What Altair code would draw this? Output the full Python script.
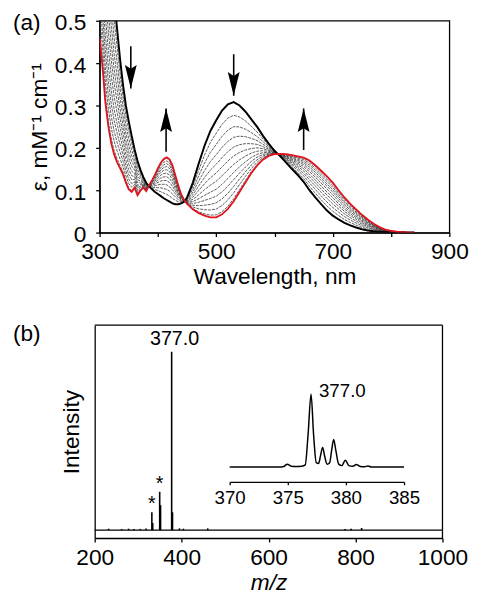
import altair as alt
import pandas as pd

# ---------------- panel (a): UV-vis titration ----------------
wavelength = [300, 305, 310, 315, 320, 325, 330, 335, 340, 345, 350, 355, 360, 365, 370, 375,
              380, 385, 390, 395, 400, 405, 410, 415, 420, 425, 430, 435, 440, 445, 450, 460,
              470, 480, 490, 500, 510, 520, 530, 540, 550, 560, 570, 580, 590, 600, 610, 620,
              630, 640, 650, 660, 670, 680, 690, 700, 710, 720, 730, 740, 750, 760, 770, 780,
              790, 800, 810, 820, 830, 840]
eps_initial = [1.05, 0.95, 0.85, 0.74, 0.64, 0.55, 0.48, 0.41, 0.35, 0.30, 0.262, 0.228, 0.196, 0.169, 0.148, 0.131,
               0.117, 0.109, 0.102, 0.096, 0.091, 0.086, 0.081, 0.077, 0.073, 0.069, 0.067, 0.067, 0.069, 0.073, 0.083, 0.118,
               0.163, 0.205, 0.240, 0.265, 0.288, 0.303, 0.308, 0.300, 0.286, 0.268, 0.250, 0.229, 0.210, 0.193, 0.180, 0.165,
               0.150, 0.136, 0.120, 0.100, 0.083, 0.067, 0.052, 0.040, 0.031, 0.023, 0.017, 0.012, 0.008, 0.005, 0.003, 0.002,
               0.001, 0.0, 0.0, 0.0, 0.0, 0.0]
eps_final = [0.46, 0.39, 0.305, 0.25, 0.21, 0.184, 0.166, 0.152, 0.138, 0.118, 0.102, 0.096, 0.106, 0.088, 0.099, 0.106,
             0.098, 0.112, 0.124, 0.137, 0.152, 0.165, 0.174, 0.178, 0.173, 0.158, 0.135, 0.111, 0.090, 0.077, 0.068, 0.055,
             0.046, 0.040, 0.036, 0.036, 0.043, 0.056, 0.074, 0.096, 0.118, 0.140, 0.158, 0.172, 0.181, 0.185, 0.186, 0.185,
             0.183, 0.180, 0.177, 0.170, 0.159, 0.146, 0.133, 0.118, 0.100, 0.083, 0.068, 0.055, 0.042, 0.031, 0.021, 0.013,
             0.007, 0.004, 0.002, 0.001, 0.0, 0.0]
# band maximum (~530 nm) of each intermediate trace
peak_530 = [0.277, 0.250, 0.225, 0.202, 0.181, 0.161, 0.142, 0.125, 0.109, 0.094, 0.080]

arrow_down_lam = [353.5, 530]
arrow_down_tail = [0.44, 0.421]
arrow_down_tip = [0.34, 0.323]
arrow_up_lam = [414, 650]
arrow_up_tail = [0.191, 0.195]
arrow_up_tip = [0.293, 0.293]

# ---------------- panel (b): mass spectrum ----------------
ms_mz = [232, 262, 278, 290, 305, 318, 331.5, 333.5, 349.5, 351.5, 377, 379, 395, 404, 460, 776, 790, 814]
ms_int = [0.8, 0.6, 0.8, 0.6, 0.7, 0.9, 10, 4, 21.5, 14, 100, 10, 1.0, 0.8, 1.0, 0.6, 0.8, 1.2]
star_mz = [331.5, 349.5]
star_int = [10, 21.5]
main_label_mz = [377]
main_label_int = [100]

inset_mz = [370, 374.3, 374.65, 374.95, 375.3, 375.7, 376.2, 376.5, 376.75, 377.0, 377.22, 377.45,
            377.65, 377.82, 378.0, 378.17, 378.38, 378.6, 378.78, 378.95, 379.12, 379.38, 379.65,
            379.95, 380.25, 380.6, 380.9, 381.25, 381.6, 381.9, 382.2, 385]
inset_int = [0, 0, 0.8, 4, 1.2, 0.8, 1.2, 3, 46, 100, 44, 6,
             5, 16, 27, 15, 4, 6, 24, 38, 24, 4, 2,
             9.5, 2, 1, 3.5, 0.8, 0.4, 1.5, 0, 0]

FONT = "Liberation Sans"

# ---------- build tables ----------
i530 = wavelength.index(530)
rows = []
for k, p in enumerate(peak_530):
    f = (p - eps_final[i530]) / (eps_initial[i530] - eps_final[i530])
    for lam, a, b in zip(wavelength, eps_initial, eps_final):
        rows.append({"lam": lam, "eps": b + f * (a - b), "curve": k})
df_mid = pd.DataFrame(rows)
df_init = pd.DataFrame({"lam": wavelength, "eps": eps_initial})
df_fin = pd.DataFrame({"lam": wavelength, "eps": eps_final})
df_down = pd.DataFrame({"lam": arrow_down_lam, "eps": arrow_down_tail, "eps2": arrow_down_tip})
df_up = pd.DataFrame({"lam": arrow_up_lam, "eps": arrow_up_tail, "eps2": arrow_up_tip})

xa_scale = alt.Scale(domain=[300, 900], nice=False, zero=False)
ya_scale = alt.Scale(domain=[0, 0.5], nice=False)
xa_axis = alt.Axis(values=list(range(300, 901, 100)),
                   labelExpr="datum.value % 200 == 0 ? '' : datum.label",
                   title="Wavelength, nm", labelPadding=4, titlePadding=3, labelFlush=False)
ya_axis = alt.Axis(values=[0, 0.1, 0.2, 0.3, 0.4, 0.5], format="~g",
                   title="ε, mM⁻¹ cm⁻¹", labelPadding=10, titlePadding=3, labelOffset=2,
                   labelFlush=False)

def xa(field="lam"):
    return alt.X(f"{field}:Q", scale=xa_scale, axis=xa_axis)

def ya(field="eps"):
    return alt.Y(f"{field}:Q", scale=ya_scale, axis=ya_axis)

mid = alt.Chart(df_mid).mark_line(clip=True, color="#333333", strokeWidth=0.8,
                                  strokeDash=[3, 1]).encode(x=xa(), y=ya(), detail="curve:N")
init = alt.Chart(df_init).mark_line(clip=True, color="black", strokeWidth=2).encode(x=xa(), y=ya())
fin = alt.Chart(df_fin).mark_line(clip=True, color="#e0141e", strokeWidth=1.8).encode(x=xa(), y=ya())

shaft_dn = alt.Chart(df_down).mark_rule(color="black", strokeWidth=1.6).encode(
    x=xa(), y=ya(), y2="eps2:Q")
shaft_up = alt.Chart(df_up).mark_rule(color="black", strokeWidth=1.6).encode(
    x=xa(), y=ya(), y2="eps2:Q")
head_dn = alt.Chart(df_down).mark_point(
    shape="M0,0 L-1.2,-4.8 L0,-4.0 L1.2,-4.8 Z", filled=True, size=100,
    color="black", opacity=1).encode(x=xa(), y=ya("eps2"))
head_up = alt.Chart(df_up).mark_point(
    shape="M0,0 L-1.2,4.8 L0,4.0 L1.2,4.8 Z", filled=True, size=100,
    color="black", opacity=1).encode(x=xa(), y=ya("eps2"))
tag_a = alt.Chart(pd.DataFrame({"t": ["(a)"]})).mark_text(
    align="left", baseline="middle", fontSize=23, font=FONT).encode(
    text="t:N", x=alt.value(-88), y=alt.value(2))

panel_a = alt.layer(mid, init, fin, shaft_dn, shaft_up, head_dn, head_up, tag_a).properties(
    width=355, height=215)

# ---------- panel b ----------
W_B, H_B = 348, 216
df_ms = pd.DataFrame({"mz": ms_mz, "base": [0] * len(ms_mz), "inten": ms_int})
df_base = pd.DataFrame({"mz": [200], "mz2": [1000], "inten": [0]})
df_star = pd.DataFrame({"mz": star_mz, "inten": star_int, "t": ["*"] * len(star_mz)})
df_lab = pd.DataFrame({"mz": main_label_mz, "inten": main_label_int, "t": ["377.0"]})
df_ins = pd.DataFrame({"imz": inset_mz, "iint": inset_int})
df_ins_lab = pd.DataFrame({"imz": [377.0], "iint": [100], "t": ["377.0"]})
df_edge = pd.DataFrame({"mz": [200], "mz2": [1000]})

xb_scale = alt.Scale(domain=[200, 1000], range=[-5, W_B], nice=False, zero=False)
yb_scale = alt.Scale(domain=[-4.42, 114.9], nice=False, zero=False)
xb_axis = alt.Axis(values=[200, 400, 600, 800, 1000], format="d", title="m/z",
                   titleFontStyle="italic", labelPadding=5, titlePadding=2, labelFlush=False)
yb_axis = alt.Axis(labels=False, ticks=False, title="Intensity", titlePadding=11, offset=5)

def xb(field="mz"):
    return alt.X(f"{field}:Q", scale=xb_scale, axis=xb_axis)

def yb(field="inten"):
    return alt.Y(f"{field}:Q", scale=yb_scale, axis=yb_axis)

sticks = alt.Chart(df_ms).mark_rule(color="black", strokeWidth=1.6).encode(
    x=xb(), y=yb("base"), y2="inten:Q")
base = alt.Chart(df_base).mark_rule(color="black", strokeWidth=1.3).encode(
    x=xb(), x2="mz2:Q", y=yb())
top_edge = alt.Chart(df_edge).mark_rule(color="black", strokeWidth=1.3).encode(
    x=xb(), x2="mz2:Q", y=alt.value(0))
right_edge = alt.Chart(df_edge).mark_rule(color="black", strokeWidth=1.3).encode(
    x=xb("mz2"), y=alt.value(0), y2=alt.value(H_B))
stars = alt.Chart(df_star).mark_text(fontSize=20, font=FONT, baseline="alphabetic", dy=-2).encode(
    x=xb(), y=yb(), text="t:N")
lab = alt.Chart(df_lab).mark_text(fontSize=20, font=FONT, baseline="alphabetic", dy=-7, dx=3).encode(
    x=xb(), y=yb(), text="t:N")
tag_b = alt.Chart(pd.DataFrame({"t": ["(b)"]})).mark_text(
    align="left", baseline="middle", fontSize=23, font=FONT).encode(
    text="t:N", x=alt.value(-88), y=alt.value(9))
main_b = alt.layer(sticks, base, top_edge, right_edge, stars, lab, tag_b)

xi_scale = alt.Scale(domain=[370, 385], range=[132, 309], nice=False, zero=False)
yi_scale = alt.Scale(domain=[0, 100], range=[144, 70], nice=False, zero=False)
xi_axis = alt.Axis(orient="bottom", offset=-57, values=[370, 375, 380, 385], title=None,
                   labelFontSize=19, tickSize=3, labelPadding=4, labelFlush=False)
ins_line = alt.Chart(df_ins).mark_line(color="black", strokeWidth=1.5, interpolate="monotone").encode(
    x=alt.X("imz:Q", scale=xi_scale, axis=xi_axis),
    y=alt.Y("iint:Q", scale=yi_scale, axis=None))
ins_lab = alt.Chart(df_ins_lab).mark_text(fontSize=19, font=FONT, align="left",
                                           baseline="alphabetic", dx=8, dy=3).encode(
    x=alt.X("imz:Q", scale=xi_scale, axis=xi_axis),
    y=alt.Y("iint:Q", scale=yi_scale, axis=None), text="t:N")
inset = alt.layer(ins_line, ins_lab)

panel_b = alt.layer(main_b, inset).resolve_scale(x="independent", y="independent").properties(
    width=W_B, height=H_B, view=alt.ViewBackground(stroke="transparent"))

chart = alt.concat(panel_a, panel_b, columns=1, align="none", spacing=33).properties(
    padding={"left": 4, "top": -1.5, "right": 5, "bottom": 4}
).configure(font=FONT).configure_axis(
    labelFont=FONT, titleFont=FONT, labelFontSize=23, titleFontSize=23,
    labelColor="black", titleColor="black", domainColor="black", tickColor="black",
    domainWidth=1.3, tickWidth=1.3, tickSize=4, grid=False, titleFontWeight="normal"
).configure_view(stroke="black", strokeWidth=1.3)

chart.save("out.html", embed_options={"renderer": "svg", "actions": False})
